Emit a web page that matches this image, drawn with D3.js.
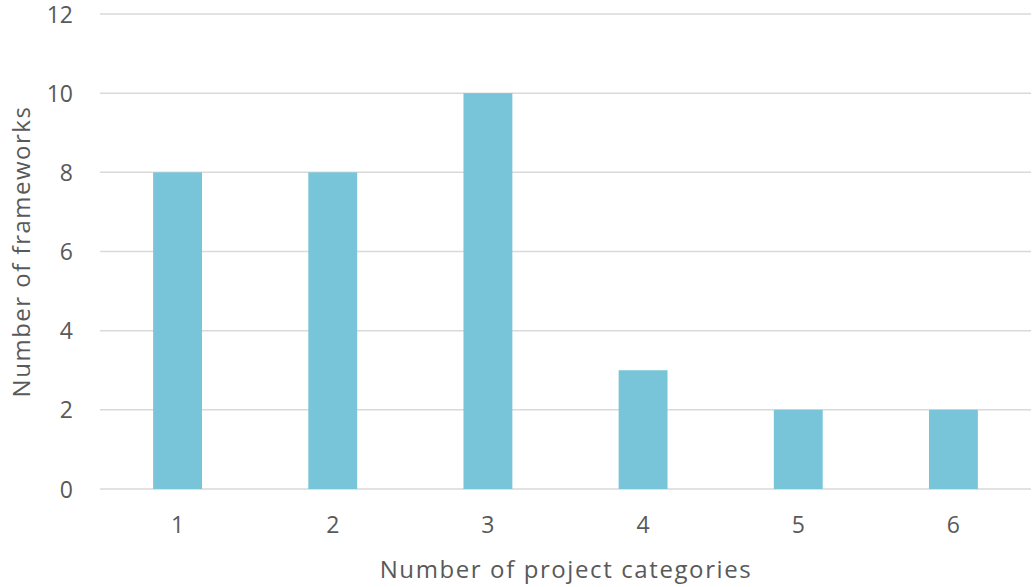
<!DOCTYPE html>
<html lang="en">
<head>
    <meta charset="UTF-8">
    <title>Frameworks by project categories</title>
    <script src="https://d3js.org/d3.v7.min.js"></script>
    <style>
        body { margin: 0; background: #fff; }
        text { font-family: "Open Sans", "Noto Sans", sans-serif; fill: #595959; }
    </style>
</head>
<body>
    <script>
        // data
        var categories = ["1", "2", "3", "4", "5", "6"];
        var frameworks = [8, 8, 10, 3, 2, 2];
        var yTicks = [0, 2, 4, 6, 8, 10, 12];

        var width = 1032, height = 587;
        var margin = { top: 14, right: 1, bottom: 98, left: 100 };

        var svg = d3.select("body").append("svg")
            .attr("width", width).attr("height", height);

        var x = d3.scaleBand()
            .domain(categories)
            .range([margin.left, width - margin.right])
            .paddingInner(0.685).paddingOuter(0.3425);

        var y = d3.scaleLinear()
            .domain([0, 12])
            .range([height - margin.bottom, margin.top]);

        // gridlines
        svg.append("g").selectAll("line").data(yTicks).enter()
            .append("line")
            .attr("x1", margin.left).attr("x2", width - margin.right)
            .attr("y1", function (d) { return y(d); })
            .attr("y2", function (d) { return y(d); })
            .attr("stroke", "#d9d9d9").attr("stroke-width", 1.5);

        // bars
        svg.append("g").selectAll("rect").data(frameworks).enter()
            .append("rect")
            .attr("x", function (d, i) { return x(categories[i]); })
            .attr("y", function (d) { return y(d); })
            .attr("width", x.bandwidth())
            .attr("height", function (d) { return y(0) - y(d); })
            .attr("fill", "#78c5d9");

        // y tick labels
        svg.append("g").selectAll("text").data(yTicks).enter()
            .append("text")
            .attr("x", 73)
            .attr("y", function (d) { return y(d) + 8.5; })
            .attr("text-anchor", "end")
            .attr("font-size", 23)
            .text(function (d) { return d; });

        // x tick labels
        svg.append("g").selectAll("text").data(categories).enter()
            .append("text")
            .attr("x", function (d) { return x(d) + x.bandwidth() / 2; })
            .attr("y", 533)
            .attr("text-anchor", "middle")
            .attr("font-size", 23)
            .text(function (d) { return d; });

        // axis titles
        svg.append("text")
            .attr("x", 566)
            .attr("y", 578)
            .attr("text-anchor", "middle")
            .attr("font-size", 24)
            .attr("letter-spacing", 1.6)
            .text("Number of project categories");

        svg.append("text")
            .attr("transform", "translate(30," + y(6) + ") rotate(-90)")
            .attr("text-anchor", "middle")
            .attr("font-size", 24)
            .attr("letter-spacing", 1.5)
            .text("Number of frameworks");
    </script>
</body>
</html>
